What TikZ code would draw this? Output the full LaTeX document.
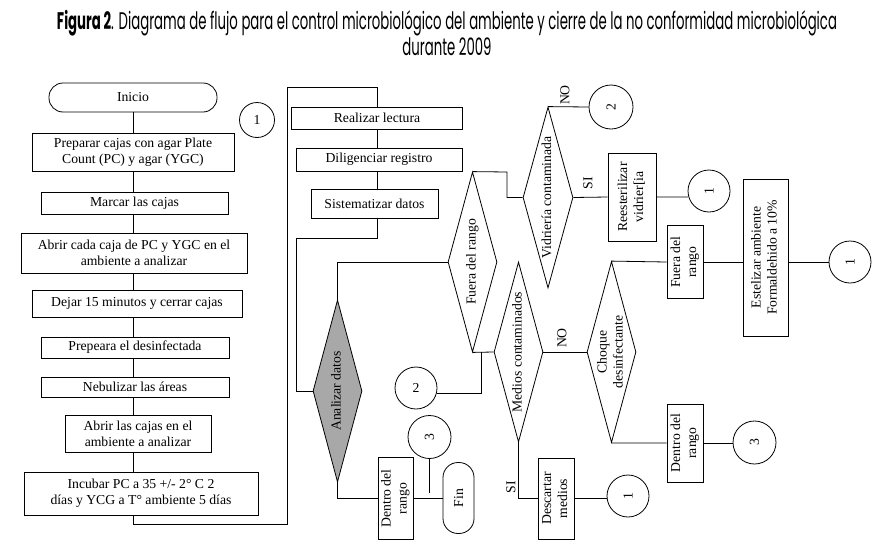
\documentclass[tikz,border=0pt]{standalone}
\usepackage{fontspec}
\setmainfont{Liberation Serif}
\newfontfamily\titlefont{Poppins}
\usepackage{graphicx}
\usetikzlibrary{shapes.geometric,calc}
\definecolor{diagray}{RGB}{168,168,168}
\newcommand\rt[1]{\rotatebox{90}{\begin{tabular}{@{}c@{}}#1\end{tabular}}}
\newcommand\rtz[1]{\rotatebox{90}{\makebox[0pt]{\begin{tabular}{@{}c@{}}#1\end{tabular}}}}
\begin{document}
\begin{tikzpicture}[x=1pt,y=-1pt,line width=0.8pt,
  every node/.style={font=\fontsize{13.7}{16}\selectfont},
  box/.style={draw, rectangle, inner sep=0.5pt, align=center},
  term/.style={draw, rectangle, rounded corners=14pt, inner sep=0.5pt},
  dia/.style={draw, diamond, inner sep=0pt},
  conn/.style={draw, circle, inner sep=0pt, minimum size=42pt},
  lbl/.style={inner sep=0pt}]
\fill[white] (0,0) rectangle (888,554);
\useasboundingbox (0,0) rectangle (888,554);
% title
\node[inner sep=0pt] (title) at (447,37) {\resizebox{780pt}{\height}{\titlefont\fontsize{24}{26}\selectfont\begin{tabular}{@{}c@{}}\textbf{Figura 2}. Diagrama de flujo para el control microbiológico del ambiente y cierre de la no conformidad microbiológica\\durante 2009\end{tabular}}};
% left column
\node[term, minimum width=168pt, minimum height=29pt] (inicio) at (133,97.5) {Inicio};
\node[conn, minimum size=35pt] (c1l) at (257,120) {1};
\node[box, minimum width=202pt, minimum height=38pt] (prep) at (133,152) {Preparar cajas con agar Plate\\Count (PC) y agar (YGC)};
\node[box, minimum width=187pt, minimum height=22pt] (marcar) at (134.5,203) {Marcar las cajas};
\node[box, minimum width=226pt, minimum height=40pt] (abrir) at (134,253) {Abrir cada caja de PC y YGC en el\\ambiente a analizar};
\node[box, minimum width=210pt, minimum height=27pt] (dejar) at (137,303.5) {Dejar 15 minutos y cerrar cajas};
\node[box, minimum width=188pt, minimum height=21pt] (prepd) at (135,347.5) {Prepeara el desinfectada};
\node[box, minimum width=188pt, minimum height=20pt] (nebu) at (135,387) {Nebulizar las áreas};
\node[box, minimum width=146pt, minimum height=37pt] (abrir2) at (138,433.5) {Abrir las cajas en el\\ambiente a analizar};
\node[box, minimum width=234pt, minimum height=43pt] (incub) at (141,493.5) {Incubar PC a 35 +/- 2° C 2\\días y YCG a T° ambiente 5 días};
\coordinate (sp) at (133,0);
\draw (sp |- inicio.south) -- (sp |- prep.north);
\draw (sp |- prep.south) -- (sp |- marcar.north);
\draw (sp |- marcar.south) -- (sp |- abrir.north);
\draw (sp |- abrir.south) -- (sp |- dejar.north);
\draw (sp |- dejar.south) -- (sp |- prepd.north);
\draw (sp |- prepd.south) -- (sp |- nebu.north);
\draw (sp |- nebu.south) -- (sp |- abrir2.north);
\draw (sp |- abrir2.south) -- (sp |- incub.north);
% middle column
\node[box, minimum width=171pt, minimum height=22pt] (real) at (377,118) {Realizar lectura};
\node[box, minimum width=166pt, minimum height=23pt] (dilig) at (379,159.5) {Diligenciar registro};
\node[box, minimum width=127pt, minimum height=29pt] (sist) at (374.5,203.5) {Sistematizar datos};
\coordinate (sp2) at (377,0);
\coordinate (lA) at (133,524);
\coordinate (lB) at (287,87);
\draw (sp |- incub.south) -- (lA) -| (lB) -| (real.north);
\draw (sp2 |- real.south) -- (sp2 |- dilig.north);
\draw (sp2 |- dilig.south) -- (sp2 |- sist.north);
% diamonds
\node[dia, fill=diagray, minimum width=49pt, minimum height=182pt] (anal) at (337.5,391) {\rtz{Analizar datos}};
\node[dia, minimum width=49pt, minimum height=180pt] (fuera1) at (472.5,262) {\rtz{Fuera del rango}};
\node[dia, minimum width=50pt, minimum height=181pt] (vidr) at (548,197.5) {\rtz{Vidriería contaminada}};
\node[dia, minimum width=49pt, minimum height=180pt] (medios) at (518.5,352) {\rtz{Medios contaminados}};
\node[dia, minimum width=49pt, minimum height=181pt] (choque) at (611.5,352) {\rtz{Choque\\desinfectante}};
\coordinate (lC) at (377,238);
\coordinate (lD) at (296,238);
\draw (sp2 |- sist.south) -- (lC) -- (lD) |- (anal.west);
% right boxes and connectors
\node[box, minimum width=48pt, minimum height=88pt] (reest) at (632,197) {\rt{Reesterilizar\\vidrier[ia}};
\node[conn, minimum size=44pt] (c2a) at (611,107) {\rotatebox{90}{2}};
\node[conn] (c1a) at (709,191) {\rotatebox{90}{1}};
\node[box, minimum width=36pt, minimum height=73pt] (fuera2) at (685,262) {\rt{Fuera del\\rango}};
\node[box, minimum width=45pt, minimum height=157pt] (estel) at (765.5,257.5) {\rt{Estelizar ambiente\\Formaldehido a 10\%}};
\node[conn] (c1b) at (850,262) {\rotatebox{90}{1}};
\node[box, minimum width=36pt, minimum height=78pt] (dentro2) at (685,443) {\rt{Dentro del\\rango}};
\node[conn, minimum size=43pt] (c3b) at (754.5,442.5) {\rotatebox{90}{3}};
\node[box, minimum width=36pt, minimum height=81pt] (desc) at (556,498.5) {\rt{Descartar\\medios}};
\node[conn] (c1c) at (628,496) {\rotatebox{90}{1}};
\node[box, minimum width=35pt, minimum height=82pt] (dentro1) at (395.5,498.5) {\rt{Dentro del\\rango}};
\node[term, rounded corners=15pt, minimum width=31pt, minimum height=71pt] (fin) at (458.5,498) {\rotatebox{90}{Fin}};
\node[conn, minimum size=43pt] (c3a) at (429.5,437) {\rotatebox{90}{3}};
\node[conn] (c2b) at (416,388) {2};
% labels
\node[lbl] (no1) at (565,95) {\rotatebox{90}{NO}};
\node[lbl] (si1) at (588,183) {\rotatebox{90}{SI}};
\node[lbl] (no2) at (562,338) {\rotatebox{90}{NO}};
\node[lbl] (si2) at (511,487) {\rotatebox{90}{SI}};
% connections
\draw (anal.north) |- (fuera1.west);
\coordinate (k1) at (507,172);
\draw (fuera1.north) -- (k1) |- (vidr.west);
\draw (vidr.north) -- (c2a.west);
\draw (vidr.east) -- (reest.west);
\draw (reest.east) -- (c1a.196);
\draw (fuera1.south) -- (medios.west);
\coordinate (j1) at (481,352);
\draw (c2b.-15) -| (j1);
\draw (medios.east) -- (choque.west);
\draw (choque.north) -- (fuera2.west);
\draw (fuera2.east) -- (fuera2.east -| estel.west);
\draw (estel.east |- c1b.west) -- (c1b.west);
\draw (choque.south) -- (dentro2.west);
\draw (dentro2.east) -- (dentro2.east -| c3b.west);
\draw (medios.south) |- (desc.west);
\draw (desc.east) -- (desc.east -| c1c.west);
\draw (anal.south) |- (dentro1.west);
\draw (dentro1.east) -- (dentro1.east -| fin.west);
\coordinate (j2) at (429.5,493);
\draw (c3a.south) -- (j2);
\end{tikzpicture}
\end{document}
